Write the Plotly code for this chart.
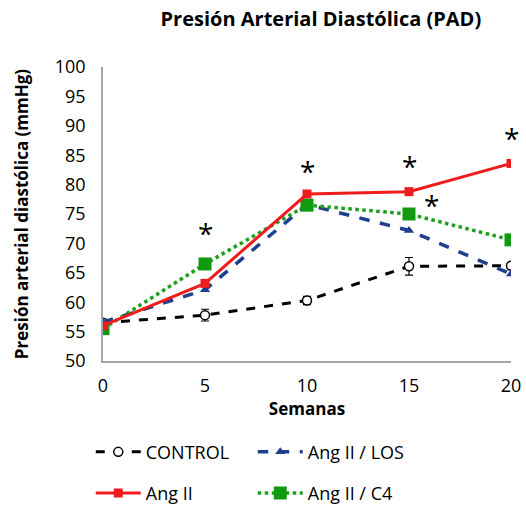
import plotly.graph_objects as go

semanas = [0, 5, 10, 15, 20]
control = [56.5, 57.8, 60.3, 66.1, 66.2]
control_err = [0.6, 1.0, 0.7, 1.5, 0.5]
ang_ii = [56.0, 63.2, 78.4, 78.8, 83.6]
ang_los = [56.6, 62.1, 76.6, 72.2, 64.8]
ang_c4 = [55.5, 66.5, 76.5, 75.0, 70.6]

# significance markers (x, y)
sig_x = [5, 10, 15, 16.1, 20]
sig_y = [71.8, 82.3, 83.2, 76.6, 87.9]

font_family = "Open Sans, Liberation Sans, sans-serif"

fig = go.Figure()

fig.add_trace(go.Scatter(
    x=semanas, y=control, name="CONTROL", legend="legend", legendrank=1,
    mode="lines+markers",
    line=dict(color="black", width=3, dash="dash"),
    marker=dict(symbol="circle", size=9, color="white", line=dict(color="black", width=1.5)),
    error_y=dict(type="data", array=control_err, color="black", thickness=1.2, width=4),
))
fig.add_trace(go.Scatter(
    x=semanas, y=ang_los, name="Ang II / LOS", legend="legend", legendrank=2,
    mode="lines+markers",
    line=dict(color="#1f3f8f", width=3.5, dash="dash"),
    marker=dict(symbol="triangle-up", size=9, color="#1f3f8f"),
))
fig.add_trace(go.Scatter(
    x=semanas, y=ang_c4, name="Ang II / C4", legend="legend2", legendrank=2,
    mode="lines+markers",
    line=dict(color="#1aa01a", width=3.5, dash="dot"),
    marker=dict(symbol="square", size=13, color="#0f9a0f"),
))
fig.add_trace(go.Scatter(
    x=semanas, y=ang_ii, name="Ang II", legend="legend2", legendrank=1,
    mode="lines+markers",
    line=dict(color="#ee1c1c", width=3),
    marker=dict(symbol="square", size=9, color="#ee1c1c"),
))

for xs, ys in zip(sig_x, sig_y):
    fig.add_annotation(x=xs, y=ys, text="*", showarrow=False,
                       font=dict(size=28, color="black", family=font_family))

legend_common = dict(orientation="h", x=-0.03, xanchor="left", yanchor="middle",
                     entrywidth=102, entrywidthmode="pixels", itemwidth=45,
                     font=dict(size=18), bgcolor="rgba(0,0,0,0)")

fig.update_layout(
    width=526, height=508,
    margin=dict(l=103, r=15, t=67, b=147, autoexpand=False),
    paper_bgcolor="white", plot_bgcolor="white",
    font=dict(family=font_family, size=17, color="black"),
    title=dict(text="<b>Presión Arterial Diastólica (PAD)</b>",
               x=0.61, xanchor="center", y=0.962, yanchor="middle",
               font=dict(size=20)),
    legend=dict(y=-0.31, **legend_common),
    legend2=dict(y=-0.45, **legend_common),
    showlegend=True,
)
fig.update_xaxes(range=[0, 20], tickvals=semanas, showgrid=False, zeroline=False,
                 showline=True, linecolor="#a6a6a6", linewidth=1.5, ticks="",
                 ticklabelstandoff=8,
                 title=dict(text="<b>Semanas</b>", standoff=4, font=dict(size=17)),
                 tickfont=dict(size=18))
fig.update_yaxes(range=[50, 100], dtick=5, showgrid=False, zeroline=False,
                 showline=True, linecolor="#a6a6a6", linewidth=1.5, ticks="",
                 ticklabelstandoff=12,
                 title=dict(text="<b>Presión arterial diastólica (mmHg)</b>", standoff=22,
                            font=dict(size=17)),
                 tickfont=dict(size=18))

fig.write_html("out.html")
